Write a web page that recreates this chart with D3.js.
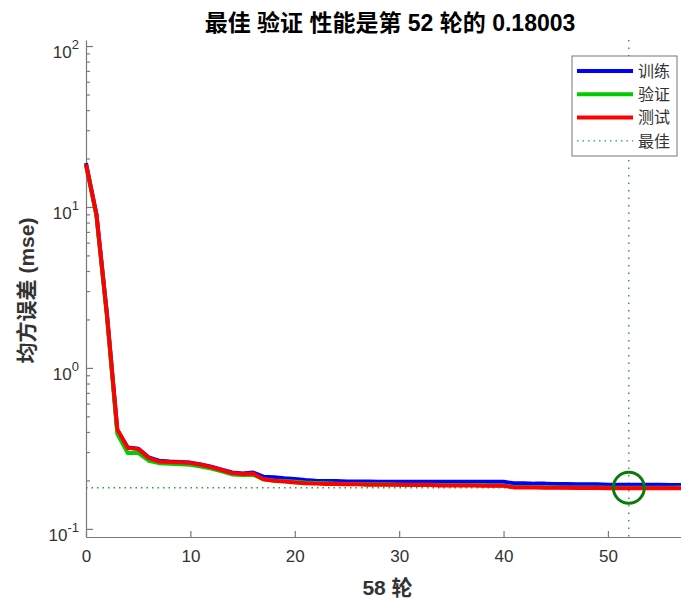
<!DOCTYPE html>
<html>
<head>
<meta charset="utf-8">
<script src="https://cdn.jsdelivr.net/npm/d3@7"></script>
<style>
    body { margin: 0; background: #fff; }
    svg { display: block; font-family: "Liberation Sans", Arial, "Noto Sans CJK SC", sans-serif; }
</style>
</head>
<body>
<svg width="681" height="600"></svg>
<script>
// epoch 0..57
var trainPerf = [18.7, 9.0, 2.2, 0.41, 0.32, 0.315, 0.278, 0.265, 0.262, 0.260,
    0.258, 0.251, 0.243, 0.233, 0.224, 0.221, 0.224, 0.211, 0.209, 0.206,
    0.204, 0.201, 0.199, 0.198, 0.198, 0.197, 0.197, 0.197, 0.196, 0.196,
    0.196, 0.196, 0.196, 0.196, 0.196, 0.196, 0.196, 0.196, 0.196, 0.196,
    0.196, 0.192, 0.192, 0.191, 0.191, 0.190, 0.190, 0.189, 0.189, 0.189,
    0.188, 0.188, 0.188, 0.188, 0.188, 0.188, 0.187, 0.187];
var valPerf = [18.2, 8.8, 2.1, 0.39, 0.296, 0.296, 0.265, 0.256, 0.254, 0.252,
    0.250, 0.244, 0.237, 0.228, 0.218, 0.216, 0.217, 0.203, 0.200, 0.198,
    0.196, 0.194, 0.193, 0.192, 0.191, 0.190, 0.190, 0.189, 0.189, 0.189,
    0.188, 0.188, 0.188, 0.188, 0.187, 0.187, 0.187, 0.187, 0.187, 0.186,
    0.186, 0.182, 0.182, 0.1818, 0.1815, 0.1812, 0.181, 0.1808, 0.1806, 0.1804,
    0.1802, 0.1801, 0.18003, 0.1801, 0.1802, 0.1802, 0.1803, 0.1804];
var testPerf = [18.4, 9.0, 2.15, 0.415, 0.318, 0.314, 0.276, 0.262, 0.260, 0.259,
    0.257, 0.250, 0.242, 0.232, 0.222, 0.219, 0.221, 0.203, 0.199, 0.197,
    0.194, 0.192, 0.191, 0.190, 0.190, 0.189, 0.189, 0.188, 0.188, 0.188,
    0.188, 0.187, 0.187, 0.187, 0.186, 0.186, 0.186, 0.186, 0.185, 0.185,
    0.185, 0.181, 0.181, 0.1805, 0.1802, 0.180, 0.1798, 0.1796, 0.1794, 0.1792,
    0.179, 0.179, 0.1788, 0.1788, 0.1787, 0.1787, 0.1786, 0.1786];

var bestEpoch = 52;
var bestPerf = 0.18003;
var xTicks = [0, 10, 20, 30, 40, 50];
var yMajor = [0.1, 1, 10, 100];
var yExp = ["-1", "0", "1", "2"];
var yMinor = [0.2, 0.3, 0.4, 0.5, 0.6, 0.7, 0.8, 0.9, 2, 3, 4, 5, 6, 7, 8, 9,
    20, 30, 40, 50, 60, 70, 80, 90];
var legendNames = ["训练", "验证", "测试", "最佳"];
var titleText = "最佳 验证 性能是第 52 轮的 0.18003";
var xLabel = "58 轮";
var yLabel = "均方误差 (mse)";

var svg = d3.select("svg"),
        margin = {top: 40, right: 0, bottom: 63, left: 86},
        width = +svg.attr("width") - margin.left - margin.right,
        height = +svg.attr("height") - margin.top - margin.bottom,
        g = svg.append("g").attr("transform", "translate(" + margin.left + "," + margin.top + ")");

var x = d3.scaleLinear().domain([0, 57]).range([0, width]);
var y = d3.scaleLog().domain([0.089, 109]).range([height, 0]);

var axisColor = "#7a7a7a", textColor = "#333";

// axes
var xAxis = g.append("g")
        .attr("transform", "translate(0," + height + ")")
        .call(d3.axisBottom(x).tickValues(xTicks).tickSizeInner(-6).tickSizeOuter(0).tickPadding(13));
xAxis.selectAll("text").attr("font-size", 17).attr("fill", textColor);

var yMinorAxis = g.append("g")
        .call(d3.axisLeft(y).tickValues(yMinor).tickSizeInner(-4).tickSizeOuter(0).tickFormat(""));
yMinorAxis.select(".domain").remove();

var yAxis = g.append("g")
        .call(d3.axisLeft(y).tickValues(yMajor).tickSizeInner(-7).tickSizeOuter(0).tickFormat(""));

svg.selectAll(".domain, .tick line").attr("stroke", axisColor).attr("stroke-width", 1.2);

var ylab = g.append("g").attr("fill", textColor).attr("font-size", 17)
        .selectAll("text")
        .data(yMajor)
        .enter().append("text")
        .attr("x", -7)
        .attr("y", function (d) { return y(d) + 12; })
        .attr("text-anchor", "end");
ylab.append("tspan").text("10");
ylab.append("tspan").attr("dy", -9).attr("font-size", 13)
        .text(function (d, i) { return yExp[i]; });

// best reference lines
var bestColor = "#2aa02a";
g.append("line")
        .attr("x1", 0).attr("x2", width)
        .attr("y1", y(bestPerf)).attr("y2", y(bestPerf))
        .attr("stroke", bestColor).attr("stroke-width", 1.4)
        .attr("stroke-dasharray", "1.5,4");
g.append("line")
        .attr("x1", x(bestEpoch)).attr("x2", x(bestEpoch))
        .attr("y1", 0).attr("y2", height)
        .attr("stroke", bestColor).attr("stroke-width", 1.4)
        .attr("stroke-dasharray", "1.5,6");

// curves
var series = [
    {name: legendNames[0], values: trainPerf, color: "#0000ff"},
    {name: legendNames[1], values: valPerf, color: "#00cc00"},
    {name: legendNames[2], values: testPerf, color: "#ff0000"}
];
var line = d3.line()
        .x(function (d, i) { return x(i); })
        .y(function (d) { return y(d); });

g.append("g")
        .selectAll("path")
        .data(series)
        .enter().append("path")
        .attr("fill", "none")
        .attr("stroke", function (d) { return d.color; })
        .attr("stroke-width", 4)
        .attr("stroke-linejoin", "round")
        .attr("d", function (d) { return line(d.values); });

g.append("circle")
        .attr("cx", x(bestEpoch))
        .attr("cy", y(valPerf[bestEpoch]))
        .attr("r", 15.5)
        .attr("fill", "none")
        .attr("stroke", "#0a7a0a")
        .attr("stroke-width", 3);

// legend
var lg = g.append("g").attr("transform", "translate(486,16)");
lg.append("rect")
        .attr("width", 105).attr("height", 100)
        .attr("fill", "#fff").attr("stroke", "#777").attr("stroke-width", 1);
var items = lg.selectAll("g")
        .data(legendNames)
        .enter().append("g")
        .attr("transform", function (d, i) { return "translate(0," + (15 + i * 23.3) + ")"; });
items.append("line")
        .attr("x1", 5).attr("x2", 61)
        .attr("stroke", function (d, i) { return i < 3 ? series[i].color : bestColor; })
        .attr("stroke-width", function (d, i) { return i < 3 ? 4 : 1.4; })
        .attr("stroke-dasharray", function (d, i) { return i < 3 ? null : "1.5,4"; });
items.append("text")
        .attr("x", 66).attr("dy", "0.36em")
        .attr("font-size", 16)
        .attr("font-family", "'Noto Sans CJK SC', sans-serif")
        .attr("fill", textColor)
        .text(function (d) { return d; });

// title and labels
svg.append("text")
        .attr("x", 390).attr("y", 31)
        .attr("text-anchor", "middle")
        .attr("font-size", 23).attr("font-weight", "bold")
        .attr("fill", "#000")
        .text(titleText);

svg.append("text")
        .attr("x", margin.left + width / 2 + 4).attr("y", 595)
        .attr("text-anchor", "middle")
        .attr("font-size", 21).attr("font-weight", "bold")
        .attr("fill", textColor)
        .text(xLabel);

svg.append("text")
        .attr("transform", "translate(34," + (margin.top + height / 2 + 2) + ") rotate(-90)")
        .attr("text-anchor", "middle")
        .attr("font-size", 21).attr("font-weight", "bold")
        .attr("fill", textColor)
        .text(yLabel);
</script>
</body>
</html>
